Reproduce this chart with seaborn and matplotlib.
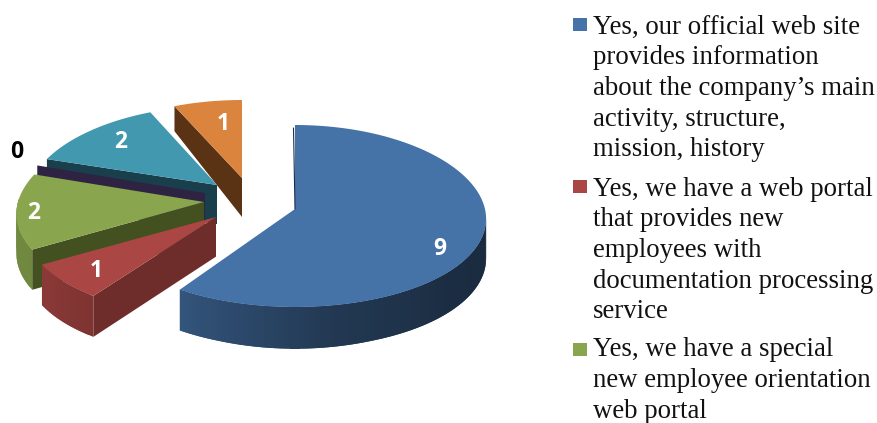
import numpy as np
import pandas as pd
import matplotlib
matplotlib.use("Agg")
import matplotlib.pyplot as plt
from matplotlib.patches import Rectangle
import seaborn as sns

# Survey answers shown on the chart
answers = ["official web site", "portal for documentation",
           "orientation portal", "none", "other portal", "other"]
counts = [9, 1, 2, 0, 2, 1]

legend_entries = [
    ["Yes, our official web site", "provides information",
     "about the company\u2019s main", "activity, structure,", "mission, history"],
    ["Yes, we have a web portal", "that provides new", "employees with",
     "documentation processing", "service"],
    ["Yes, we have a special", "new employee orientation", "web portal"],
]

top_colors = ["#4572A7", "#AA4643", "#89A54E", "#71588F", "#4198AF", "#DB843D"]
cut_colors = ["#1A2C45", "#6E2C2B", "#435020", "#2F2343", "#1A3F4C", "#5A3214"]

sns.set_theme(style="white", palette=sns.color_palette(top_colors))
plt.rcParams["font.family"] = ["Liberation Serif", "DejaVu Sans"]

table = pd.DataFrame({"answer": answers, "count": counts})
edges = np.concatenate([[0], np.cumsum(table["count"]) / table["count"].sum() * 360])

# Projection of each exploded slice: tip position, horizontal radius and its
# perspective widening, vertical radii, and vertical shift of the rim.
geometry = [
    dict(tip=(295, 209), rx=191, k=6, a=91, b=0, dy=7),
    dict(tip=(216, 217), rx=188.6, k=24.7, a=91.5, b=7.5, dy=0),
    dict(tip=(204, 202), rx=186, k=24.7, a=91.5, b=7.5, dy=0),
    dict(tip=(205, 193), rx=184, k=24.7, a=91.5, b=7.5, dy=0),
    dict(tip=(217, 185), rx=186.5, k=24.7, a=86, b=7, dy=0),
    dict(tip=(242, 178), rx=188.6, k=24.7, a=85, b=7, dy=0),
]


def rim(theta, g):
    """Screen position of the slice rim at angle theta (clockwise from 12 o'clock)."""
    t = np.radians(theta)
    c, s = np.cos(t), np.sin(t)
    x = g["tip"][0] + (g["rx"] - g["k"] * c) * s
    y = g["tip"][1] + g["dy"] - g["a"] * c + g["b"] * c ** 2
    return x, y


def depth(y):
    return np.interp(y, [107, 178, 300, 320], [25, 39, 41, 43])


def rim_shade(theta):
    return np.interp(theta, [90, 130, 170, 216, 240, 272],
                     [0.37, 0.40, 0.50, 0.74, 0.82, 0.84])


fig = plt.figure(figsize=(8.78, 4.23), dpi=100)
ax = fig.add_axes([0, 0, 1, 1])
ax.set_xlim(0, 878)
ax.set_ylim(423, 0)
ax.axis("off")
layer = 1

# Painted from the back of the pie to the front
for i in [5, 4, 3, 2, 1, 0]:
    g = geometry[i]
    start, end = edges[i], edges[i + 1]
    base = np.array(matplotlib.colors.to_rgb(top_colors[i]))

    # Flat cut face at the slice's starting angle
    tx, ty = g["tip"]
    cx, cy = rim(start, g)
    ax.fill([tx, cx, cx, tx], [ty, cy, cy + depth(cy), ty + depth(ty)],
            color=cut_colors[i], lw=0, zorder=layer)
    layer += 1

    # Shaded outer wall on the forward-facing part of the rim; every strip
    # runs under the next one so no seams show between them
    lo, hi = max(start, 90), min(end, 272)
    if hi > lo:
        steps = np.linspace(lo, hi, max(int((hi - lo) / 1.5), 2) + 1)
        for j in range(len(steps) - 1):
            a0, a1 = steps[j], steps[min(j + 2, len(steps) - 1)]
            x0, y0 = rim(a0, g)
            x1, y1 = rim(a1, g)
            shade = np.clip(base * rim_shade((steps[j] + steps[j + 1]) / 2), 0, 1)
            ax.fill([x0, x1, x1, x0], [y0, y1, y1 + depth(y1), y0 + depth(y0)],
                    color=shade, lw=0, zorder=layer)
            layer += 1

    # Top face
    if end > start:
        arc = np.linspace(start, end, 120)
        xs, ys = rim(arc, g)
        ax.fill(np.r_[tx, xs], np.r_[ty, ys],
                color=top_colors[i], lw=0, zorder=layer)
        layer += 1

# Thin dark edge where the large slice starts
xb, yb = rim(edges[0], geometry[0])
ax.plot([xb - 1.5, geometry[0]["tip"][0]], [yb + 3, geometry[0]["tip"][1]],
        color=cut_colors[0], lw=0.8, zorder=layer)
layer += 1

# Value labels
label_spots = [(440, 249), (96, 271), (34, 213), (17, 152), (121, 142), (223, 124)]
for value, (lx, ly) in zip(table["count"], label_spots):
    ax.text(lx, ly, str(value), family="Open Sans", weight="bold", fontsize=16.5,
            color="black" if value == 0 else "white",
            ha="center", va="center", zorder=layer)

# Legend drawn line by line with square keys
line_pitch = 30.5
first_baselines = [34, 196, 356.5]
key_tops = [18, 180, 343]
for entry, y0, key_top, color in zip(legend_entries, first_baselines, key_tops, top_colors):
    ax.add_patch(Rectangle((573.5, key_top), 13.5, 13.5, color=color, lw=0))
    for n, line in enumerate(entry):
        ax.text(593, y0 + n * line_pitch, line, fontsize=19.3, color="#111111",
                ha="left", va="baseline")

fig.savefig("out.png", dpi=100)
